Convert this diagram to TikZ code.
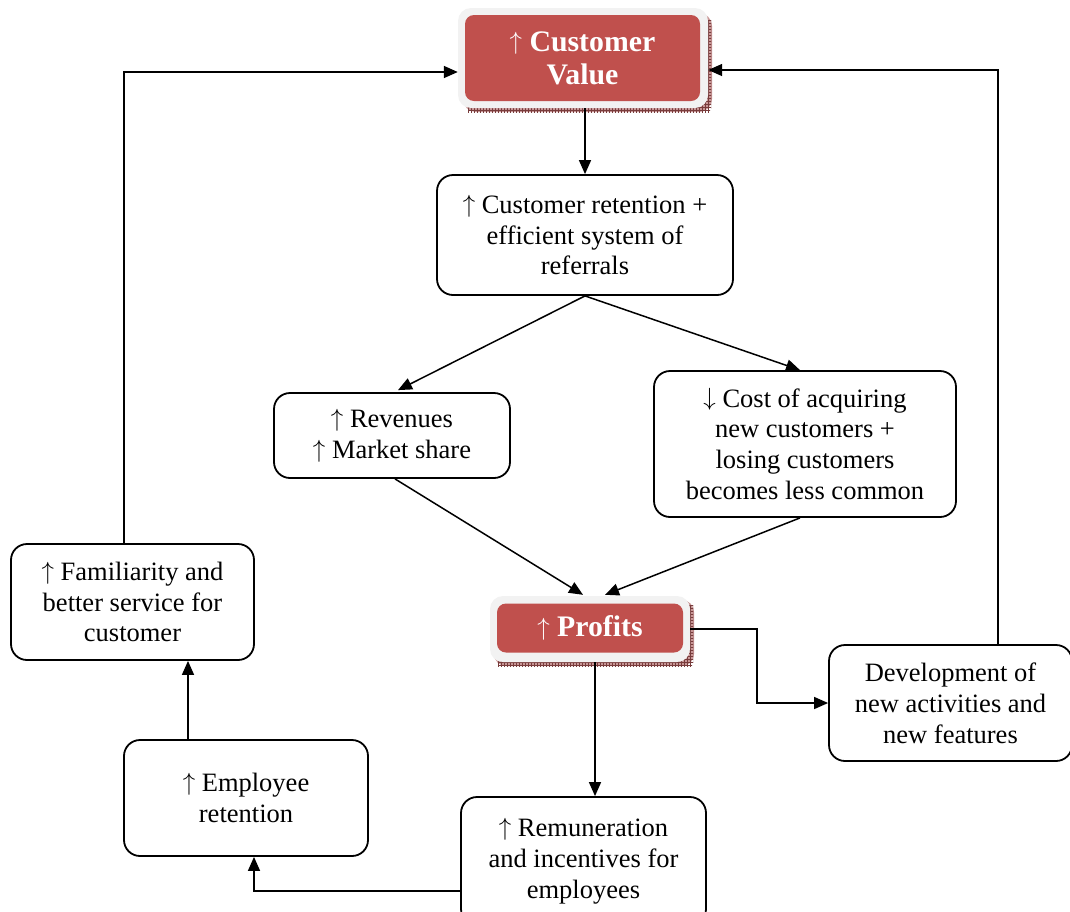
\documentclass[tikz,border=0pt]{standalone}
\usepackage{fontspec}
\setmainfont{Liberation Serif}
\usetikzlibrary{arrows.meta,patterns,calc}
\definecolor{cvred}{RGB}{192,80,77}
\definecolor{cvgray}{RGB}{242,242,242}
\definecolor{shadowbg}{RGB}{200,150,150}
\definecolor{shadowln}{RGB}{120,60,60}
\newcommand{\upar}{\raisebox{0.05em}{$\uparrow$}}
\newcommand{\dnar}{\raisebox{0.05em}{$\downarrow$}}
\begin{document}
\begin{tikzpicture}[x=1pt,y=-1pt,
  box/.style={draw=black,line width=1.8pt,rounded corners=16pt,align=center,
    inner sep=0pt,font=\fontsize{26.5}{30.8}\selectfont},
  outerbox/.style={fill=cvgray,rounded corners=13pt,inner sep=0pt},
  innerbox/.style={fill=cvred,rounded corners=9pt,inner sep=0pt,text=white,align=center,
    font=\fontsize{29.8}{33}\selectfont\bfseries},
  arr/.style={line width=1.5pt,-{Triangle[length=14pt,width=12pt]}},
  ln/.style={line width=1.5pt}]
\useasboundingbox (0,0) rectangle (1070,911);
% shadows
\fill[shadowbg,rounded corners=13pt] (463,13) rectangle (712,112);
\fill[pattern=grid,pattern color=shadowln] (468,102) rectangle (710,112);
\fill[pattern=grid,pattern color=shadowln] (703,20) rectangle (711,108);
\fill[shadowbg,rounded corners=12pt] (494,600) rectangle (694,666);
\fill[pattern=grid,pattern color=shadowln] (498,655) rectangle (692,666);
\fill[pattern=grid,pattern color=shadowln] (685,605) rectangle (693,662);
% Customer value
\node[outerbox,minimum width=250pt,minimum height=100pt] (cv) at (583,58) {};
\node[innerbox,minimum width=235pt,minimum height=86pt] (cvin) at (582.5,58) {\upar\ Customer\\Value};
% Profits
\node[outerbox,minimum width=200pt,minimum height=66pt] (prof) at (590,629) {};
\node[innerbox,minimum width=186pt,minimum height=49pt] (profin) at (590,628) {\upar\ Profits};
% boxes
\node[box,minimum width=296pt,minimum height=120pt] (ret) at (585,235) {\upar\ Customer retention +\\efficient system of\\referrals};
\node[box,minimum width=236pt,minimum height=85pt] (rev) at (392,435.5) {\upar\ Revenues\\\upar\ Market share};
\node[box,minimum width=302pt,minimum height=146pt] (cost) at (805,444) {\dnar\ Cost of acquiring\\new customers +\\losing customers\\becomes less common};
\node[box,minimum width=243pt,minimum height=116pt] (fam) at (132.5,602) {\upar\ Familiarity and\\better service for\\customer};
\node[box,minimum width=243pt,minimum height=116pt] (dev) at (950.5,703) {Development of\\new activities and\\new features};
\node[box,minimum width=244pt,minimum height=116pt] (emp) at (246,798) {\upar\ Employee\\retention};
\node[box,minimum width=245pt,minimum height=128pt] (rem) at (583.5,861) {\upar\ Remuneration\\and incentives for\\employees};
% helper coordinates
\coordinate (cx0) at (585,0);
\coordinate (cx1) at (188,0);
\coordinate (cx2) at (124,0);
\coordinate (cx3) at (998,0);
\coordinate (cy1) at (0,72);
\coordinate (cy2) at (0,70);
\coordinate (cx4) at (595,0);
\coordinate (cx5) at (254,0);
\coordinate (cy3) at (0,891);
% connectors
\draw[arr] (cv.south -| cx0) -- (ret.north -| cx0);
\draw[arr] (ret.south) -- ($(rev.north)+(6,-2)$);
\draw[arr] (ret.south) -- ($(cost.north)+(-5,0)$);
\draw[arr] ($(rev.south)+(3,0)$) -- ($(prof.north)+(-7,-1)$);
\draw[arr] ($(cost.south)+(-5,0)$) -- ($(prof.north)+(15,-1)$);
\draw[arr] (prof.east) -- ++(67,0) |- (dev.west);
\draw[arr] (prof.south -| cx4) -- (rem.north -| cx4);
\draw[arr] (rem.west |- cy3) -| (emp.south -| cx5);
\draw[arr] (emp.north -| cx1) -- (fam.south -| cx1);
\draw[arr] (fam.north -| cx2) |- (cv.west |- cy1);
\draw[arr] (dev.north -| cx3) |- (cv.east |- cy2);
\end{tikzpicture}
\end{document}
